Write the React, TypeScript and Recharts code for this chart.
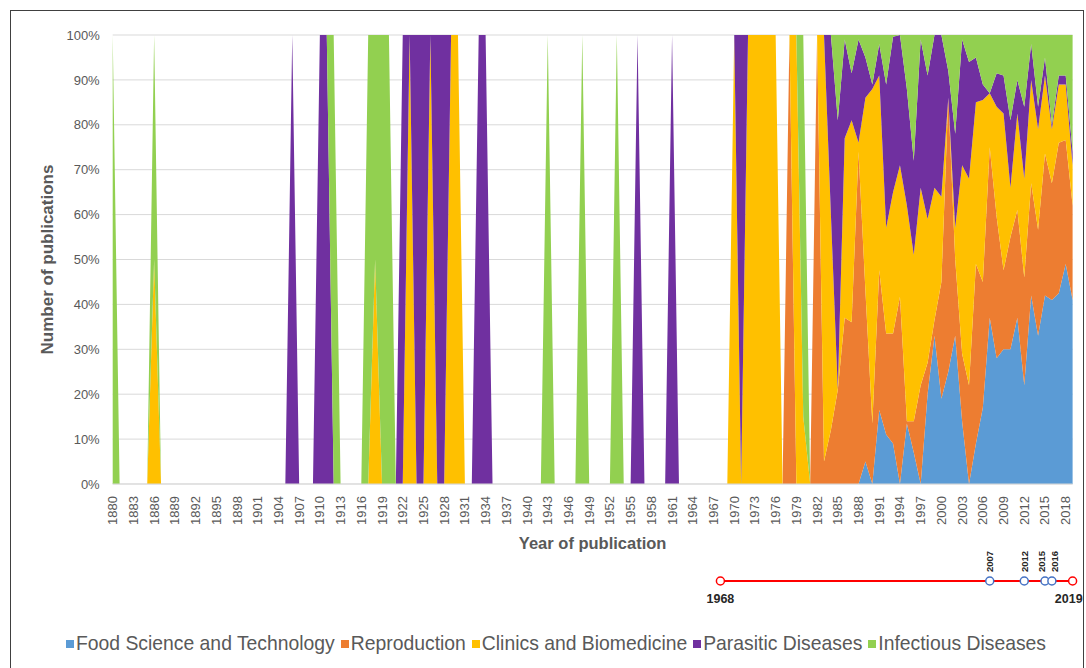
import React from 'react';
import { AreaChart, Area, XAxis, YAxis, CartesianGrid, LineChart, Line, LabelList } from 'recharts';

const years = [
  1880, 1881, 1882, 1883, 1884, 1885, 1886, 1887, 1888, 1889,
  1890, 1891, 1892, 1893, 1894, 1895, 1896, 1897, 1898, 1899,
  1900, 1901, 1902, 1903, 1904, 1905, 1906, 1907, 1908, 1909,
  1910, 1911, 1912, 1913, 1914, 1915, 1916, 1917, 1918, 1919,
  1920, 1921, 1922, 1923, 1924, 1925, 1926, 1927, 1928, 1929,
  1930, 1931, 1932, 1933, 1934, 1935, 1936, 1937, 1938, 1939,
  1940, 1941, 1942, 1943, 1944, 1945, 1946, 1947, 1948, 1949,
  1950, 1951, 1952, 1953, 1954, 1955, 1956, 1957, 1958, 1959,
  1960, 1961, 1962, 1963, 1964, 1965, 1966, 1967, 1968, 1969,
  1970, 1971, 1972, 1973, 1974, 1975, 1976, 1977, 1978, 1979,
  1980, 1981, 1982, 1983, 1984, 1985, 1986, 1987, 1988, 1989,
  1990, 1991, 1992, 1993, 1994, 1995, 1996, 1997, 1998, 1999,
  2000, 2001, 2002, 2003, 2004, 2005, 2006, 2007, 2008, 2009,
  2010, 2011, 2012, 2013, 2014, 2015, 2016, 2017, 2018, 2019,
];

// Shares of publications (%) per year
const foodScience = [
  0, 0, 0, 0, 0, 0, 0, 0, 0, 0,
  0, 0, 0, 0, 0, 0, 0, 0, 0, 0,
  0, 0, 0, 0, 0, 0, 0, 0, 0, 0,
  0, 0, 0, 0, 0, 0, 0, 0, 0, 0,
  0, 0, 0, 0, 0, 0, 0, 0, 0, 0,
  0, 0, 0, 0, 0, 0, 0, 0, 0, 0,
  0, 0, 0, 0, 0, 0, 0, 0, 0, 0,
  0, 0, 0, 0, 0, 0, 0, 0, 0, 0,
  0, 0, 0, 0, 0, 0, 0, 0, 0, 0,
  0, 0, 0, 0, 0, 0, 0, 0, 0, 0,
  0, 0, 0, 0, 0, 0, 0, 0, 0, 5,
  0, 16.5, 11, 9, 0, 13.5, 7, 0, 20, 33,
  19, 25, 33, 14, 0, 9, 17, 37, 28, 30,
  30, 37, 22, 42, 33, 42, 41, 42.5, 49, 41,
];

const reproduction = [
  0, 0, 0, 0, 0, 0, 0, 0, 0, 0,
  0, 0, 0, 0, 0, 0, 0, 0, 0, 0,
  0, 0, 0, 0, 0, 0, 0, 0, 0, 0,
  0, 0, 0, 0, 0, 0, 0, 0, 0, 0,
  0, 0, 0, 0, 0, 0, 0, 0, 0, 0,
  0, 0, 0, 0, 0, 0, 0, 0, 0, 0,
  0, 0, 0, 0, 0, 0, 0, 0, 0, 0,
  0, 0, 0, 0, 0, 0, 0, 0, 0, 0,
  0, 0, 0, 0, 0, 0, 0, 0, 0, 0,
  0, 0, 0, 0, 0, 0, 0, 0, 100, 0,
  0, 0, 100, 5, 12, 21, 37, 36, 74, 38,
  13.5, 31.1, 22.5, 24.5, 41.7, 0.5, 7, 22, 7, 3.5,
  26, 61, 17, 15, 22, 40, 28, 38, 31.5, 17.6,
  25, 24, 24, 25, 23.6, 31.6, 26, 33.5, 27.6, 21,
];

const clinics = [
  0, 0, 0, 0, 0, 0, 50, 0, 0, 0,
  0, 0, 0, 0, 0, 0, 0, 0, 0, 0,
  0, 0, 0, 0, 0, 0, 0, 0, 0, 0,
  0, 0, 0, 0, 0, 0, 0, 0, 50, 0,
  0, 0, 0, 100, 0, 0, 100, 0, 0, 100,
  100, 0, 0, 0, 0, 0, 0, 0, 0, 0,
  0, 0, 0, 0, 0, 0, 0, 0, 0, 0,
  0, 0, 0, 0, 0, 0, 0, 0, 0, 0,
  0, 0, 0, 0, 0, 0, 0, 0, 0, 0,
  100, 0, 100, 100, 100, 100, 100, 0, 0, 100,
  15, 0, 0, 95, 48, 0, 40, 45, 2, 43,
  74.5, 43.4, 23.5, 31.5, 29.3, 48, 37, 44, 32, 29.5,
  19, 0, 7, 42, 46, 36, 40.5, 12, 24.5, 34.9,
  11, 21.5, 22, 23, 22.4, 17.4, 12, 13, 12.4, 9,
];

const parasitic = [
  0, 0, 0, 0, 0, 0, 0, 0, 0, 0,
  0, 0, 0, 0, 0, 0, 0, 0, 0, 0,
  0, 0, 0, 0, 0, 0, 100, 0, 0, 0,
  100, 100, 0, 0, 0, 0, 0, 0, 0, 0,
  0, 0, 100, 0, 100, 100, 0, 100, 100, 0,
  0, 0, 0, 100, 100, 0, 0, 0, 0, 0,
  0, 0, 0, 0, 0, 0, 0, 0, 0, 0,
  0, 0, 0, 0, 0, 0, 100, 0, 0, 0,
  0, 100, 0, 0, 0, 0, 0, 0, 0, 0,
  0, 100, 0, 0, 0, 0, 0, 0, 0, 0,
  0, 0, 0, 0, 40, 60, 22, 10.5, 23, 9,
  1, 7, 32, 34.6, 29, 26, 21, 33, 32, 34,
  36, 6, 21, 28, 26, 10, 3.5, 0, 7.5, 8.5,
  15, 7.5, 16, 8, 5, 4, 1, 2, 2, 3,
];

const infectious = [
  100, 0, 0, 0, 0, 0, 50, 0, 0, 0,
  0, 0, 0, 0, 0, 0, 0, 0, 0, 0,
  0, 0, 0, 0, 0, 0, 0, 0, 0, 0,
  0, 0, 100, 0, 0, 0, 0, 100, 50, 100,
  100, 0, 0, 0, 0, 0, 0, 0, 0, 0,
  0, 0, 0, 0, 0, 0, 0, 0, 0, 0,
  0, 0, 0, 100, 0, 0, 0, 0, 100, 0,
  0, 0, 0, 100, 0, 0, 0, 0, 0, 0,
  0, 0, 0, 0, 0, 0, 0, 0, 0, 0,
  0, 0, 0, 0, 0, 0, 0, 0, 0, 0,
  85, 0, 0, 0, 0, 19, 1, 8.5, 1, 5,
  11, 2, 11, 0.4, 0, 12, 28, 1, 9, 0,
  0, 8, 22, 1, 6, 5, 11, 13, 8.5, 9,
  19, 10, 16, 2, 16, 5, 20, 9, 9, 26,
];

const yTicks = [0, 0.1, 0.2, 0.3, 0.4, 0.5, 0.6, 0.7, 0.8, 0.9, 1];

const timelineYears = [1968, 2007, 2012, 2015, 2016, 2019];
const timelineKinds = ['end', 'mid', 'mid', 'mid', 'mid', 'end'];

const series = [
  { key: 'food', name: 'Food Science and Technology', color: '#5B9BD5', values: foodScience },
  { key: 'repro', name: 'Reproduction', color: '#ED7D31', values: reproduction },
  { key: 'clin', name: 'Clinics and Biomedicine', color: '#FFC000', values: clinics },
  { key: 'para', name: 'Parasitic Diseases', color: '#7030A0', values: parasitic },
  { key: 'inf', name: 'Infectious Diseases', color: '#92D050', values: infectious },
];

const data = years.map((year, i) => {
  const row: Record<string, number> = { year };
  series.forEach((s) => {
    row[s.key] = s.values[i];
  });
  return row;
});

const timelineData = timelineYears.map((year, i) => ({ year, y: 0.5, kind: timelineKinds[i] }));

const FONT = '"Liberation Sans", Arial, sans-serif';
const GRAY = '#595959';

const XTick = (props: any) => {
  const { x, y, payload } = props;
  return (
    <text
      x={x}
      y={y}
      transform={`rotate(-90 ${x} ${y})`}
      textAnchor="end"
      dominantBaseline="central"
      fontSize={13}
      fill={GRAY}
      fontFamily={FONT}
    >
      {payload.value}
    </text>
  );
};

const TimelineDot = (props: any) => {
  const { cx, cy, payload } = props;
  const end = payload.kind === 'end';
  return (
    <circle
      key={`dot-${payload.year}`}
      cx={cx}
      cy={cy}
      r={4}
      fill="#FFFFFF"
      stroke={end ? '#FF0000' : '#4472C4'}
      strokeWidth={1.5}
    />
  );
};

const TimelineLabel = (props: any) => {
  const { x, y, value, index } = props;
  const kind = timelineKinds[index];
  if (kind === 'end') {
    const last = index === timelineYears.length - 1;
    return (
      <text
        x={last ? x + 10 : x}
        y={y + 18}
        textAnchor={last ? 'end' : 'middle'}
        dominantBaseline="central"
        fontSize={12.5}
        fontWeight="bold"
        fill="#262626"
        fontFamily={FONT}
      >
        {value}
      </text>
    );
  }
  const prev = timelineYears[index - 1];
  const next = timelineYears[index + 1];
  let dx = 0;
  if (next !== undefined && next - value === 1) dx = -3;
  if (prev !== undefined && value - prev === 1) dx = 3;
  const lx = x + dx;
  const ly = y - 9;
  return (
    <text
      x={lx}
      y={ly}
      transform={`rotate(-90 ${lx} ${ly})`}
      textAnchor="start"
      dominantBaseline="central"
      fontSize={9.5}
      fontWeight="bold"
      fill="#262626"
      fontFamily={FONT}
    >
      {value}
    </text>
  );
};

export default function App() {
  return (
    <div
      style={{
        position: 'relative',
        width: 1086,
        height: 668,
        overflow: 'hidden',
        fontFamily: FONT,
        background: '#fff',
      }}
    >
      <style>{'html, body { margin: 0; padding: 0; overflow: hidden; }'}</style>
      <div
        style={{
          position: 'absolute',
          left: 10,
          top: 10,
          width: 1072,
          height: 700,
          borderLeft: '1px solid #404040',
          borderTop: '1px solid #404040',
          borderRight: '1px solid #404040',
        }}
      />
      <div style={{ position: 'absolute', left: 0, top: 0 }}>
        <AreaChart
          width={1086}
          height={554}
          data={data}
          stackOffset="expand"
          margin={{ top: 35, right: 13.4, left: 0, bottom: 0 }}
        >
          <CartesianGrid vertical={false} stroke="#D9D9D9" />
          <XAxis
            dataKey="year"
            interval={2}
            tick={<XTick />}
            tickLine={false}
            tickMargin={6}
            height={70}
            axisLine={{ stroke: '#D9D9D9' }}
            label={{
              value: 'Year of publication',
              position: 'insideBottom',
              offset: 5,
              fill: GRAY,
              fontSize: 16.5,
              fontWeight: 'bold',
              fontFamily: FONT,
            }}
          />
          <YAxis
            type="number"
            domain={[0, 1]}
            ticks={yTicks}
            tickFormatter={(v: number) => `${Math.round(v * 100)}%`}
            width={112.7}
            axisLine={false}
            tickLine={false}
            tickMargin={7}
            tick={{ fill: GRAY, fontSize: 13, fontFamily: FONT }}
            label={{
              value: 'Number of publications',
              angle: -90,
              position: 'insideLeft',
              offset: 47,
              style: { textAnchor: 'middle' },
              fill: GRAY,
              fontSize: 17,
              fontWeight: 'bold',
              fontFamily: FONT,
            }}
          />
          {series.map((s) => (
            <Area
              key={s.key}
              type="linear"
              dataKey={s.key}
              name={s.name}
              stackId="1"
              stroke="none"
              fill={s.color}
              fillOpacity={1}
              isAnimationActive={false}
              dot={false}
              activeDot={false}
            />
          ))}
        </AreaChart>
      </div>
      <div style={{ position: 'absolute', left: 0, top: 532 }}>
        <LineChart
          width={1086}
          height={98}
          data={timelineData}
          margin={{ top: 0, right: 13.4, left: 112.7, bottom: 0 }}
        >
          <XAxis dataKey="year" type="number" domain={[1880, 2019]} hide />
          <YAxis type="number" domain={[0, 1]} hide />
          <Line
            dataKey="y"
            stroke="#FF0000"
            strokeWidth={2}
            dot={<TimelineDot />}
            activeDot={false}
            isAnimationActive={false}
          >
            <LabelList dataKey="year" content={<TimelineLabel />} />
          </Line>
        </LineChart>
      </div>
      <div
        style={{
          position: 'absolute',
          left: 0,
          top: 632,
          width: 1086,
          display: 'flex',
          justifyContent: 'center',
          alignItems: 'center',
          paddingLeft: 32,
          boxSizing: 'border-box',
        }}
      >
        {series.map((s) => (
          <div key={s.key} style={{ display: 'flex', alignItems: 'center', marginRight: 6 }}>
            <span style={{ display: 'inline-block', width: 8, height: 8, background: s.color, marginRight: 2 }} />
            <span style={{ fontSize: 19.35, color: GRAY, fontFamily: FONT, whiteSpace: 'nowrap' }}>{s.name}</span>
          </div>
        ))}
      </div>
    </div>
  );
}
